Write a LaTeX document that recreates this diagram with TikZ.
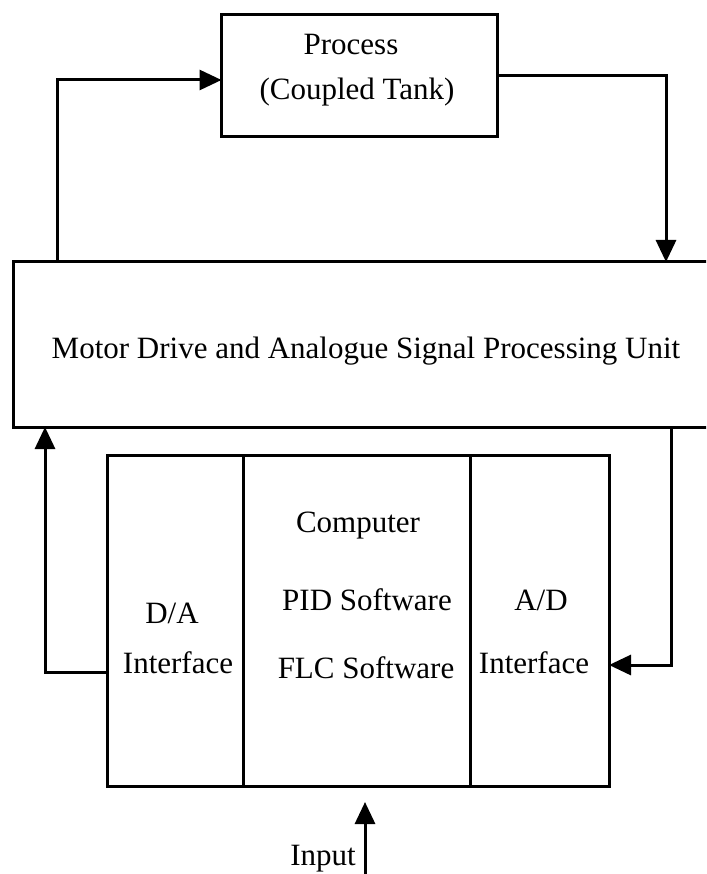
\documentclass[tikz,border=0pt]{standalone}
\usepackage{fontspec}
\setmainfont{Liberation Serif}
\usetikzlibrary{arrows.meta}
\tikzset{
  box/.style={draw, line width=3pt, inner sep=0pt, outer sep=0pt},
  lbl/.style={anchor=base, inner sep=0pt, font=\fontsize{31}{37}\selectfont},
  arr/.style={line width=3pt, -{Triangle[length=22pt,width=20pt]}},
}
\begin{document}
\begin{tikzpicture}[x=1pt,y=-1pt]
\clip (0,0) rectangle (706,874);
\fill[white] (0,0) rectangle (706,874);
% boxes
\node[box, minimum width=276pt, minimum height=122pt] (proc) at (359.5,76) {};
\node[box, minimum width=707pt, minimum height=165pt] (big) at (366.5,344.5) {};
\node[box, minimum width=136pt, minimum height=331pt] (da) at (175,620.5) {};
\node[box, minimum width=227pt, minimum height=331pt] (comp) at (356.5,620.5) {};
\node[box, minimum width=139pt, minimum height=331pt] (ad) at (539.5,620.5) {};
% texts
\node[lbl] (t1) at (351,55) {Process};
\node[lbl] (t2) at (357,100) {(Coupled Tank)};
\node[lbl] (t3) at (366,358) {Motor Drive and Analogue Signal Processing Unit};
\node[lbl] (t4) at (358,532) {Computer};
\node[lbl] (t5) at (367,610) {PID Software};
\node[lbl] (t6) at (366,678) {FLC Software};
\node[lbl] (t7) at (172,623) {D/A};
\node[lbl] (t8) at (178,673) {Interface};
\node[lbl] (t9) at (541,610) {A/D};
\node[lbl] (t10) at (534,673) {Interface};
\node[lbl] (t11) at (323,865) {Input};
% connectors
\coordinate (L) at (57,80);
\coordinate (R) at (666,76);
\coordinate (DL) at (45,672);
\coordinate (DR) at (671,665);
\coordinate (inbot) at (365,880);
\coordinate (intip) at (365,802);
\draw[arr] (big.north -| L) -- (L) -- (L -| proc.west);
\draw[arr] (proc.east |- R) -- (R) -- (R |- big.north);
\draw[arr] (da.west |- DL) -- (DL) -- (DL |- big.south);
\draw[arr] (big.south -| DR) -- (DR) -- (DR -| ad.east);
\draw[arr] (inbot) -- (intip);
\end{tikzpicture}
\end{document}
